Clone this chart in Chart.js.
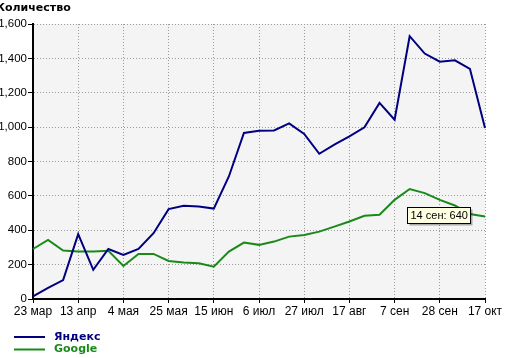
<!DOCTYPE html>
<html>
<head>
<meta charset="utf-8">
<script src="https://cdn.jsdelivr.net/npm/chart.js@4"></script>
<style>
  html, body { margin: 0; padding: 0; background: #fff; }
  canvas { display: block; }
</style>
</head>
<body>
<canvas id="chart" width="506" height="358"></canvas>
<script>
// weekly dates (every 3rd one is shown on the axis)
const labels = ['23 мар', '30 мар', '6 апр', '13 апр', '20 апр', '27 апр', '4 мая', '11 мая', '18 мая', '25 мая',
    '1 июн', '8 июн', '15 июн', '22 июн', '29 июн', '6 июл', '13 июл', '20 июл', '27 июл', '3 авг',
    '10 авг', '17 авг', '24 авг', '31 авг', '7 сен', '14 сен', '21 сен', '28 сен', '5 окт', '12 окт', '17 окт'];
const yandex = [15, 65, 110, 377, 170, 291, 256, 291, 383, 523, 542, 538, 526, 713, 966, 979, 981, 1022, 960, 845,
    898, 946, 999, 1141, 1043, 1529, 1428, 1381, 1389, 1339, 995];
const google = [291, 344, 282, 276, 276, 280, 192, 262, 262, 221, 212, 208, 188, 276, 328, 315, 334, 363, 373, 392,
    421, 451, 484, 490, 577, 640, 616, 577, 544, 494, 480];
const seriesNames = ['Яндекс', 'Google'];
const seriesColors = ['#000080', '#198a19'];
const yTicks = [0, 200, 400, 600, 800, 1000, 1200, 1400, 1600];
const tipIndex = 25; // "14 сен: 640"

const tickFont = {family: 'Liberation Sans, Arial, sans-serif', size: 12};

// grey plot background
const plotBg = {
    id: 'plotBg',
    beforeDraw(chart) {
        const a = chart.chartArea, ctx = chart.ctx;
        ctx.save();
        ctx.fillStyle = '#f4f4f4';
        ctx.fillRect(a.left, a.top, a.right - a.left, a.bottom - a.top);
        ctx.restore();
    }
};

// title, legend and the hover box
const extras = {
    id: 'extras',
    afterDraw(chart) {
        const ctx = chart.ctx;
        ctx.save();
        ctx.font = 'bold 11px "DejaVu Sans", Verdana, sans-serif';
        ctx.fillStyle = '#000';
        ctx.textBaseline = 'middle';
        ctx.fillText('Количество', -4, 8);

        // legend
        seriesNames.forEach((name, i) => {
            const y = 337 + i * 12.5;
            ctx.strokeStyle = seriesColors[i];
            ctx.lineWidth = 2;
            ctx.beginPath();
            ctx.moveTo(14, y);
            ctx.lineTo(45, y);
            ctx.stroke();
            ctx.fillStyle = seriesColors[i];
            ctx.fillText(name, 54, y);
        });

        // tooltip-like box next to the Google peak
        const pt = chart.getDatasetMeta(1).data[tipIndex];
        const text = labels[tipIndex] + ': ' + google[tipIndex];
        ctx.font = '11px "Liberation Sans", Arial, sans-serif';
        const w = Math.round(ctx.measureText(text).width) + 6;
        const h = 16;
        const x = Math.round(pt.x) - 2.5, y = Math.round(pt.y) + 18.5;
        ctx.fillStyle = 'rgba(0,0,0,0.3)';
        ctx.fillRect(x + 2, y + 2, w, h);
        ctx.fillStyle = '#ffffe1';
        ctx.fillRect(x, y, w, h);
        ctx.strokeStyle = '#000';
        ctx.lineWidth = 1;
        ctx.strokeRect(x, y, w, h);
        ctx.fillStyle = '#000';
        ctx.fillText(text, x + 3, y + h / 2 + 0.5);
        ctx.restore();
    }
};

new Chart(document.getElementById('chart'), {
    type: 'line',
    data: {
        labels: labels,
        datasets: [
            {label: seriesNames[0], data: yandex, borderColor: seriesColors[0], borderWidth: 2, pointRadius: 0, tension: 0},
            {label: seriesNames[1], data: google, borderColor: seriesColors[1], borderWidth: 2, pointRadius: 0, tension: 0}
        ]
    },
    options: {
        responsive: false,
        animation: false,
        locale: 'en-US',
        layout: {padding: {left: 0, right: 21, top: 24, bottom: 0}},
        plugins: {legend: {display: false}, tooltip: {enabled: false}},
        scales: {
            x: {
                grid: {
                    color: c => (c.index % 3 === 0 && c.index > 0) ? '#9a9a9a' : 'rgba(0,0,0,0)',
                    tickColor: c => c.index % 3 === 0 ? '#000' : 'rgba(0,0,0,0)',
                    tickLength: 4,
                    offset: false
                },
                border: {color: '#000', width: 2, dash: [1, 2]},
                ticks: {
                    autoSkip: false, maxRotation: 0, padding: 1, color: '#000', font: tickFont,
                    callback: (v, i) => i % 3 === 0 ? labels[i] : ''
                },
                afterFit: s => { s.height = 59; }
            },
            y: {
                min: 0, max: 1600,
                afterBuildTicks: s => { s.ticks = yTicks.map(v => ({value: v})); },
                grid: {
                    color: c => c.tick && c.tick.value > 0 ? '#9a9a9a' : 'rgba(0,0,0,0)',
                    tickColor: '#000',
                    tickLength: 5
                },
                border: {color: '#000', width: 2, dash: [1, 2]},
                ticks: {padding: 1, color: '#000', font: {family: 'Liberation Sans, Arial, sans-serif', size: 11.5}},
                afterFit: s => { s.width = 33; }
            }
        }
    },
    plugins: [plotBg, extras]
});
</script>
</body>
</html>
